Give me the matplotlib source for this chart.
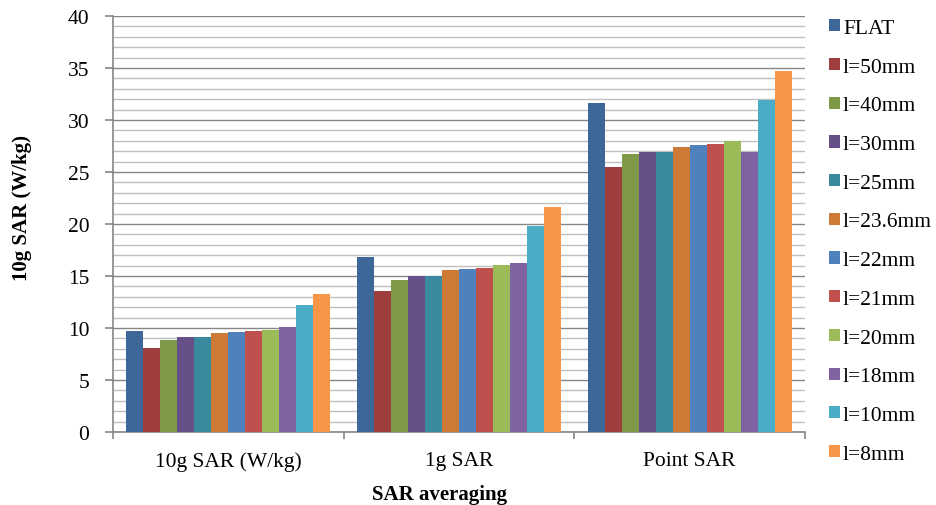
import matplotlib.pyplot as plt
from matplotlib.ticker import MultipleLocator, FixedLocator, NullFormatter
import numpy as np

# 数据
categories = ['10g SAR (W/kg)', '1g SAR', 'Point SAR']
series_names = ['FLAT', 'l=50mm', 'l=40mm', 'l=30mm', 'l=25mm', 'l=23.6mm',
                'l=22mm', 'l=21mm', 'l=20mm', 'l=18mm', 'l=10mm', 'l=8mm']
sar_10g = [9.68, 8.05, 8.83, 9.12, 9.12, 9.51, 9.61, 9.71, 9.81, 10.06, 12.18, 13.25]
sar_1g = [16.87, 13.55, 14.65, 15.0, 15.03, 15.58, 15.68, 15.81, 16.06, 16.29, 19.81, 21.68]
sar_point = [31.68, 25.52, 26.77, 26.94, 26.94, 27.45, 27.55, 27.71, 28.0, 26.9, 31.9, 34.68]
colors = ['#3D6799', '#9E3F3D', '#7E9A48', '#674F88', '#3A8A9F', '#CC7A35',
          '#4F81BD', '#C0504D', '#9BBB59', '#8064A2', '#4BACC6', '#F79646']

plt.rcParams['font.family'] = ['Liberation Serif', 'DejaVu Serif']
fs = 15.5

values = np.array([sar_10g, sar_1g, sar_point]).T  # series x category
n = len(series_names)
x = np.arange(len(categories))
group_w = 0.885
bw = group_w / n

W, H = 936, 506
fig = plt.figure(figsize=(W / 100, H / 100), dpi=100)
ax = fig.add_axes([113 / W, 1 - 433 / H, (805 - 113) / W, (433 - 17) / H])

for i in range(n):
    ax.bar(x - group_w / 2 + bw * (i + 0.5), values[i], width=bw,
           color=colors[i], label=series_names[i], zorder=3, linewidth=0)

ax.set_xlim(-0.5, len(categories) - 0.5)
ax.set_ylim(0, 40)
ax.yaxis.set_major_locator(MultipleLocator(5))
ax.yaxis.set_minor_locator(MultipleLocator(1))
ax.yaxis.set_minor_formatter(NullFormatter())
ax.grid(axis='y', which='major', color='#868686', linewidth=1.0, zorder=0)
ax.grid(axis='y', which='minor', color='#BFBFBF', linewidth=1.0, zorder=0)

# x 轴刻度放在分组边界
ax.set_xticks(x)
ax.set_xticklabels(categories, fontsize=fs)
ax.tick_params(axis='x', which='major', length=0, pad=14)
ax.xaxis.set_minor_locator(FixedLocator([-0.5, 0.5, 1.5, 2.5]))
ax.tick_params(axis='x', which='minor', length=5, color='#868686', width=1.2)
ax.tick_params(axis='y', which='major', length=6, color='#868686', width=1.2,
               labelsize=fs, pad=11)
ax.tick_params(axis='y', which='minor', length=0)

for s in ['top', 'right']:
    ax.spines[s].set_visible(False)
for s in ['left', 'bottom']:
    ax.spines[s].set_color('#868686')
    ax.spines[s].set_linewidth(1.2)

# 轴标题
fig.text(22 / W, 1 - 208.5 / H, '10g SAR (W/kg)', rotation=90, fontsize=15,
         fontweight='bold', ha='center', va='center')
fig.text(440 / W, 1 - 495 / H, 'SAR averaging', fontsize=15,
         fontweight='bold', ha='center', va='center')

leg = fig.legend(*ax.get_legend_handles_labels(), loc='upper left',
                 bbox_to_anchor=(829 / W, 1 - 20 / H), frameon=False,
                 fontsize=fs, handlelength=0.5, handleheight=0.5,
                 handletextpad=0.15, labelspacing=0.915, borderaxespad=0,
                 borderpad=0)

fig.savefig('out.png', dpi=100)
